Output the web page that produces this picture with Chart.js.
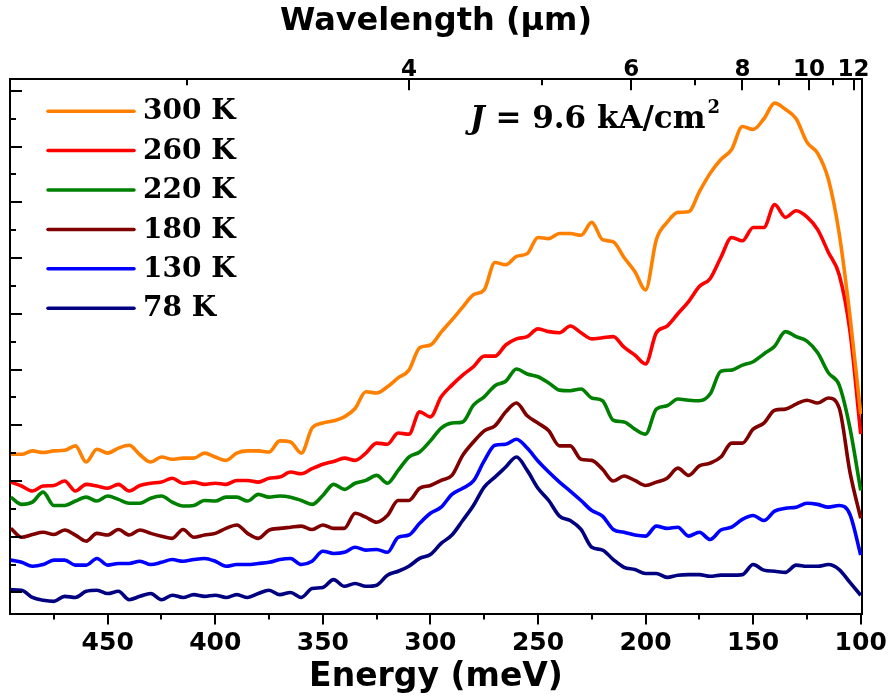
<!DOCTYPE html>
<html>
<head>
<meta charset="utf-8">
<script src="https://cdn.jsdelivr.net/npm/chart.js@4.4.1/dist/chart.umd.min.js"></script>
<style>
html,body{margin:0;padding:0;background:#fff;}
canvas{display:block;}
</style>
</head>
<body>
<canvas id="chart" width="889" height="698"></canvas>
<script>
// Photon energy grid (meV), left to right as in the figure
const energy = [
  495,490,485,480,475,470,465,460,455,450,
  445,440,435,430,425,420,415,410,405,400,
  395,390,385,380,375,370,365,360,355,350,
  345,340,335,330,325,320,315,310,305,300,
  295,290,285,280,275,270,265,260,255,250,
  245,240,235,230,225,220,215,210,205,200,
  195,190,185,180,175,170,165,160,155,150,
  145,140,135,130,125,120,115,110,105,100
];

// Emission intensity (a.u., curves offset vertically)
const k300 = [
  2.48,2.48,2.54,2.51,2.54,2.55,2.63,2.34,2.57,2.50,
  2.59,2.64,2.47,2.34,2.43,2.39,2.41,2.41,2.50,2.43,
  2.37,2.50,2.54,2.54,2.52,2.72,2.70,2.50,2.95,3.04,
  3.08,3.15,3.30,3.60,3.58,3.69,3.85,3.99,4.39,4.44,
  4.67,4.89,5.12,5.34,5.43,5.92,5.88,6.03,6.08,6.37,
  6.35,6.44,6.44,6.41,6.64,6.33,6.29,6.01,5.76,5.43,
  6.33,6.64,6.82,6.83,7.19,7.52,7.77,7.95,8.36,8.31,
  8.50,8.78,8.67,8.50,8.08,7.88,7.41,6.44,4.96,3.20
];
const k260 = [
  1.98,1.91,1.82,1.91,1.92,2.00,1.82,1.94,1.91,1.87,
  1.94,1.82,1.92,1.96,1.98,2.05,1.96,1.98,1.94,1.96,
  1.94,2.01,2.01,1.98,2.05,2.07,2.16,2.13,2.22,2.30,
  2.35,2.41,2.37,2.50,2.68,2.66,2.86,2.84,3.24,3.15,
  3.51,3.72,3.90,4.05,4.24,4.24,4.44,4.55,4.59,4.73,
  4.68,4.66,4.78,4.66,4.55,4.57,4.59,4.40,4.26,4.10,
  4.66,4.78,5.00,5.22,5.49,5.63,6.01,6.37,6.31,6.55,
  6.55,6.96,6.73,6.85,6.74,6.51,6.10,5.70,4.69,2.84
];
const k220 = [
  1.71,1.58,1.62,1.80,1.56,1.56,1.64,1.71,1.64,1.73,
  1.67,1.60,1.60,1.69,1.73,1.62,1.55,1.56,1.65,1.64,
  1.71,1.71,1.64,1.76,1.71,1.73,1.71,1.65,1.58,1.74,
  1.94,1.85,1.96,2.01,2.10,1.96,2.19,2.43,2.52,2.72,
  2.95,3.04,3.06,3.36,3.51,3.71,3.79,4.01,3.92,3.87,
  3.76,3.63,3.62,3.65,3.49,3.44,3.09,3.06,2.93,2.84,
  3.29,3.35,3.47,3.45,3.44,3.56,3.97,3.99,4.08,4.14,
  4.28,4.42,4.68,4.59,4.51,4.30,3.94,3.72,2.95,1.83
];
const k180 = [
  1.15,0.99,1.04,1.08,1.04,1.12,1.03,0.92,1.06,1.03,
  1.13,1.03,1.12,1.06,1.01,0.97,1.13,0.99,1.03,1.06,
  1.15,1.21,1.06,0.97,1.12,1.15,1.17,1.19,1.13,1.21,
  1.15,1.15,1.42,1.35,1.26,1.38,1.65,1.65,1.87,1.92,
  2.01,2.10,2.46,2.70,2.90,2.99,3.24,3.40,3.17,3.04,
  2.90,2.63,2.63,2.39,2.37,2.21,2.00,2.09,2.01,1.92,
  1.98,2.05,2.23,2.10,2.27,2.32,2.43,2.68,2.68,2.93,
  3.04,3.27,3.29,3.38,3.45,3.40,3.49,3.31,2.16,1.33
];
const k130 = [
  0.58,0.54,0.47,0.50,0.58,0.58,0.49,0.49,0.61,0.49,
  0.52,0.52,0.56,0.50,0.54,0.59,0.56,0.59,0.61,0.56,
  0.47,0.50,0.50,0.52,0.54,0.59,0.61,0.50,0.56,0.74,
  0.70,0.72,0.81,0.76,0.77,0.72,0.99,1.03,1.24,1.42,
  1.53,1.76,1.87,2.00,2.36,2.64,2.66,2.75,2.59,2.36,
  2.16,1.98,1.82,1.65,1.47,1.37,1.13,1.08,1.03,1.01,
  1.19,1.15,1.17,1.01,1.08,0.95,1.12,1.17,1.31,1.38,
  1.29,1.46,1.51,1.53,1.60,1.58,1.53,1.56,1.40,0.67
];
const k78 = [
  0.05,0.04,-0.09,-0.14,-0.16,-0.07,-0.09,0.02,0.04,-0.02,
  0.02,-0.13,-0.07,-0.02,-0.13,-0.05,-0.09,-0.04,-0.07,-0.05,
  -0.09,-0.04,-0.09,-0.02,0.04,-0.04,0.00,-0.09,0.07,0.09,
  0.23,0.11,0.16,0.11,0.13,0.31,0.38,0.47,0.61,0.68,
  0.88,1.03,1.29,1.56,1.89,2.07,2.25,2.43,2.19,1.87,
  1.65,1.37,1.29,1.13,0.81,0.76,0.59,0.45,0.41,0.34,
  0.34,0.27,0.31,0.32,0.32,0.29,0.31,0.31,0.32,0.50,
  0.40,0.38,0.36,0.49,0.47,0.47,0.50,0.41,0.18,-0.05
];

const seriesLabels = ['300 K','260 K','220 K','180 K','130 K','78 K'];
const seriesValues = [k300, k260, k220, k180, k130, k78];
const seriesColors = ['#FF8000','#FF0000','#008000','#800000','#0000FF','#000080'];

// Axis ticks
const energyTicks = [100,150,200,250,300,350,400,450];
const energyMinorTicks = [125,175,225,275,325,375,425,475];
const wavelengthTicks = [4,6,8,10,12];
const wavelengthMinorTicks = [3,5,7,9,11];
const intensityTicks = [0,1,2,3,4,5,6,7,8,9];
const intensityMinorTicks = [0.5,1.5,2.5,3.5,4.5,5.5,6.5,7.5,8.5];
const HC = 1239.84; // meV·µm, E = HC / lambda

const E_MIN = 99.4, E_MAX = 495.4;
const Y_MIN = -0.378, Y_MAX = 9.21;

const datasets = seriesLabels.map((lab, i) => ({
  label: lab,
  data: energy.map((e, j) => ({x: e, y: seriesValues[i][j]})),
  borderColor: seriesColors[i],
  backgroundColor: seriesColors[i],
  borderWidth: 3.6,
  pointRadius: 0,
  cubicInterpolationMode: 'monotone',
  fill: false
}));

const tickFont = (size) => ({family: 'DejaVu Sans', weight: 'bold', size: size, lineHeight: 1});

const overlay = {
  id: 'overlay',
  afterDraw(chart) {
    const {ctx, chartArea: a, scales: {x, y}} = chart;
    ctx.save();
    // tick marks: left & top point inward, bottom outward
    ctx.strokeStyle = '#000';
    ctx.lineWidth = 2;
    ctx.beginPath();
    const seg = (x1, y1, x2, y2) => { ctx.moveTo(x1, y1); ctx.lineTo(x2, y2); };
    intensityTicks.forEach(v => { const p = Math.round(y.getPixelForValue(v)); seg(a.left, p, a.left + 12, p); });
    intensityMinorTicks.forEach(v => { const p = Math.round(y.getPixelForValue(v)); seg(a.left, p, a.left + 6, p); });
    energyTicks.forEach(e => { const p = Math.round(x.getPixelForValue(e)); seg(p, a.bottom, p, a.bottom + 11); });
    energyMinorTicks.forEach(e => { const p = Math.round(x.getPixelForValue(e)); seg(p, a.bottom, p, a.bottom + 6); });
    wavelengthTicks.forEach(w => { const p = Math.round(x.getPixelForValue(HC / w)); seg(p, a.top, p, a.top + 11); });
    wavelengthMinorTicks.forEach(w => { const p = Math.round(x.getPixelForValue(HC / w)); seg(p, a.top, p, a.top + 6); });
    ctx.stroke();

    // legend
    chart.data.datasets.forEach((ds, i) => {
      const yy = a.top + 32 + i * 39.4;
      ctx.strokeStyle = ds.borderColor;
      ctx.lineWidth = 3.5;
      ctx.lineCap = 'round';
      ctx.beginPath();
      ctx.moveTo(a.left + 38, yy);
      ctx.lineTo(a.left + 124, yy);
      ctx.stroke();
      ctx.fillStyle = '#000';
      ctx.font = 'bold 28px "DejaVu Serif"';
      ctx.textAlign = 'left';
      ctx.textBaseline = 'middle';
      ctx.fillText(ds.label, a.left + 133, yy + 1);
    });

    // current density annotation
    const bx = a.left + 460, by = a.top + 49;
    ctx.fillStyle = '#000';
    ctx.textAlign = 'left';
    ctx.textBaseline = 'alphabetic';
    ctx.font = 'italic bold 31px "DejaVu Serif"';
    ctx.fillText('J', bx, by);
    let cx = bx + ctx.measureText('J').width;
    ctx.font = 'bold 31px "DejaVu Serif"';
    const main = ' = 9.6 kA/cm';
    ctx.fillText(main, cx, by);
    cx += ctx.measureText(main).width + 2;
    ctx.font = 'bold 18px "DejaVu Serif"';
    ctx.fillText('2', cx, by - 15);
    ctx.restore();
  }
};

new Chart(document.getElementById('chart'), {
  type: 'line',
  data: {datasets: datasets},
  plugins: [overlay],
  options: {
    responsive: false,
    animation: false,
    devicePixelRatio: 1,
    layout: {padding: {left: 10, right: 27, top: 0, bottom: 0}},
    plugins: {legend: {display: false}, tooltip: {enabled: false}},
    scales: {
      x: {
        type: 'linear', position: 'bottom', reverse: true, min: E_MIN, max: E_MAX,
        afterBuildTicks: s => { s.ticks = energyTicks.map(v => ({value: v})); },
        ticks: {autoSkip: false, maxRotation: 0, padding: 17.5, color: '#000', font: tickFont(25),
                callback: v => String(v)},
        grid: {display: false, drawTicks: false},
        border: {display: true, color: '#000', width: 2},
        title: {display: true, text: 'Energy (meV)', color: '#000',
                font: {family: 'DejaVu Sans', weight: 'bold', size: 33, lineHeight: 1.2},
                padding: {top: -15.9, bottom: 0.8}}
      },
      x2: {
        type: 'linear', position: 'top', reverse: true, min: E_MIN, max: E_MAX,
        afterBuildTicks: s => { s.ticks = wavelengthTicks.map(w => ({value: HC / w})); },
        ticks: {autoSkip: false, maxRotation: 0, padding: -2, color: '#000', font: tickFont(23),
                callback: v => String(Math.round(HC / v))},
        grid: {display: false, drawTicks: false},
        border: {display: true, color: '#000', width: 2},
        title: {display: true, text: 'Wavelength (µm)', color: '#000',
                font: {family: 'DejaVu Sans', weight: 'bold', size: 32, lineHeight: 1.2},
                padding: {top: 2.8, bottom: 19}}
      },
      y: {
        type: 'linear', position: 'left', min: Y_MIN, max: Y_MAX,
        ticks: {display: false},
        grid: {display: false, drawTicks: false},
        border: {display: true, color: '#000', width: 2}
      },
      y2: {
        type: 'linear', position: 'right', min: Y_MIN, max: Y_MAX,
        ticks: {display: false},
        grid: {display: false, drawTicks: false},
        border: {display: true, color: '#000', width: 2}
      }
    }
  }
});
</script>
</body>
</html>
